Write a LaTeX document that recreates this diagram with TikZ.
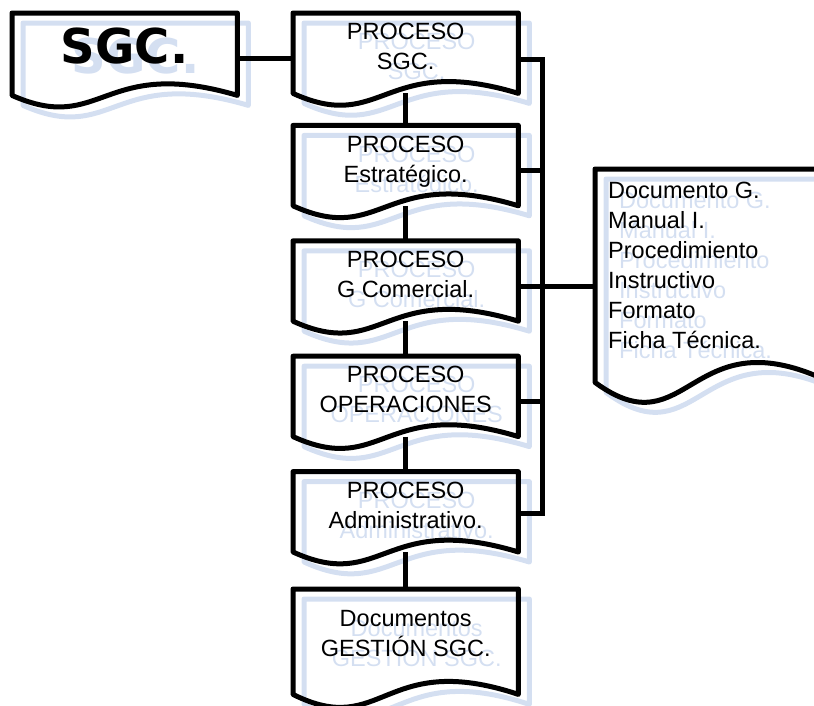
\documentclass[tikz,border=0pt]{standalone}
\usepackage{fontspec}
\setmainfont{Liberation Sans}
\newfontfamily\heavyfont{DejaVu Sans}
\usetikzlibrary{positioning, backgrounds, calc}
\definecolor{shadowblue}{RGB}{212,223,241}
\tikzset{
	docbox/.style={rectangle, minimum width=225pt, minimum height=80pt, inner sep=0pt},
	doctext/.style={align=center, inner sep=0pt, font=\fontsize{23.5}{30}\selectfont},
	listtext/.style={align=left, inner sep=0pt, font=\fontsize{23.5}{30}\selectfont},
	titletext/.style={inner sep=0pt, font=\heavyfont\bfseries\fontsize{48}{48}\selectfont},
	docline/.style={line width=5pt, line join=round},
	link/.style={line width=5pt},
	ghost/.style={shadowblue, transform canvas={xshift=11pt, yshift=-10pt}},
}
\newcommand{\docoutline}[3][]{%
	\draw[docline, #1] (#2.north west) -- (#2.north east) -- (#2.south east)
		.. controls ($(#2.south west)!0.4!(#2.south east)+(0,-#3)$) and ($(#2.south west)!0.4!(#2.south east)+(0,#3)$) .. (#2.south west) -- cycle;}
\begin{document}
\begin{tikzpicture}[x=1pt, y=-1pt]
		\useasboundingbox (0,0) rectangle (814,705);
		\clip (0,0) rectangle (814,705);
		
		\node[docbox, minimum height=82pt, anchor=north west] (sgc) at (12,13) {};
		\node[titletext, below=15pt of sgc.north] (sgct) {SGC.};
		\docoutline{sgc}{40}
		\begin{scope}[on background layer]
		\docoutline[ghost]{sgc}{40}
		\node[titletext, ghost] at (sgct) {SGC.};
		\end{scope}
		
		\node[docbox, anchor=north west] (p1) at (293,13) {};
		\node[docbox, below=32pt of p1] (p2) {};
		\node[docbox, below=35pt of p2] (p3) {};
		\node[docbox, below=35pt of p3] (p4) {};
		\node[docbox, below=35pt of p4] (p5) {};
		\node[docbox, minimum height=105pt, below=37pt of p5] (p6) {};
		\node[docbox, minimum width=235pt, minimum height=213pt, anchor=north west] (docs) at (595,169) {};
		
		\foreach \i/\txt in {1/{PROCESO\\SGC.}, 2/{PROCESO\\Estratégico.}, 3/{PROCESO\\G Comercial.}, 4/{PROCESO\\OPERACIONES}, 5/{PROCESO\\Administrativo.}}{
			\node[doctext, below=10pt of p\i.north] (p\i t) {\txt};
			\docoutline{p\i}{41}
			\begin{scope}[on background layer]
			\docoutline[ghost]{p\i}{41}
			\node[doctext, ghost] at (p\i t) {\txt};
			\end{scope}
		}
		
		\node[doctext, below=21pt of p6.north] (p6t) {Documentos\\GESTIÓN SGC.};
		\docoutline{p6}{45}
		\node[listtext, below right=13pt and 13pt of docs.north west] (docst) {Documento G.\\Manual I.\\Procedimiento\\Instructivo\\Formato\\Ficha Técnica.};
		\docoutline{docs}{69}
		\begin{scope}[on background layer]
		\docoutline[ghost]{p6}{45}
		\node[doctext, ghost] at (p6t) {Documentos\\GESTIÓN SGC.};
		\docoutline[ghost]{docs}{69}
		\node[listtext, ghost] at (docst) {Documento G.\\Manual I.\\Procedimiento\\Instructivo\\Formato\\Ficha Técnica.};
		\end{scope}
		
		\coordinate (bus) at (542,0);
		\draw[link] ([yshift=-4pt]sgc.east) -- ([yshift=-4pt]sgc.east -| p1.west);
		\foreach \i [count=\j from 2] in {1,...,5}
			\draw[link] (p\i.south) -- (p\j.north);
		\draw[link] ([yshift=-6pt]p1.east) -- ([yshift=-6pt]p1.east -| bus) -- ([yshift=-2pt]p5.east -| bus) -- ([yshift=-2pt]p5.east);
		\foreach \i in {2,4}
			\draw[link] ([yshift=-5pt]p\i.east) -- ([yshift=-5pt]p\i.east -| bus);
		\draw[link] ([yshift=-5pt]p3.east) -- ([yshift=-5pt]p3.east -| docs.west);
\end{tikzpicture}
\end{document}
